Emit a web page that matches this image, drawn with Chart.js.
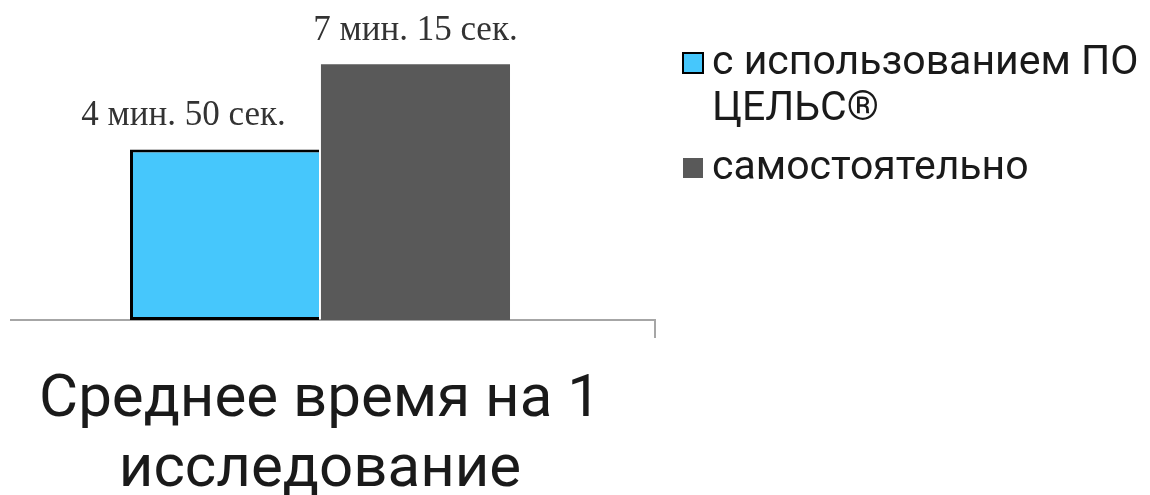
<!DOCTYPE html>
<html>
<head>
<meta charset="utf-8">
<script src="https://cdn.jsdelivr.net/npm/chart.js@4.4.1/dist/chart.umd.min.js"></script>
<style>
  html, body { margin: 0; padding: 0; background: #ffffff; }
  #wrap { width: 1150px; height: 495px; position: relative; }
</style>
</head>
<body>
<div id="wrap"><canvas id="c" width="1150" height="495"></canvas></div>
<script>
// ---- data ----
const categories = [['Среднее время на 1', 'исследование']];
const seriesNames = ['с использованием ПО ЦЕЛЬС®', 'самостоятельно'];
const legendLines = [['с использованием ПО', 'ЦЕЛЬС®'], ['самостоятельно']];
const withSoftwareSec = [290];   // 4 мин. 50 сек.
const manualSec = [435];         // 7 мин. 15 сек.
const valueLabels = [['4 мин. 50 сек.'], ['7 мин. 15 сек.']];

const BLUE = '#46C7FC';
const GRAY = '#595959';

const axisPlugin = {
  id: 'axisLine',
  beforeDatasetsDraw(chart) {
    const ctx = chart.ctx;
    const a = chart.chartArea;
    ctx.save();
    ctx.strokeStyle = '#a6a6a6';
    ctx.lineWidth = 2;
    ctx.beginPath();
    ctx.moveTo(10, a.bottom);
    ctx.lineTo(655, a.bottom);
    ctx.lineTo(655, a.bottom + 18);
    ctx.stroke();
    ctx.restore();
  }
};

const labelPlugin = {
  id: 'valueLabels',
  afterDatasetsDraw(chart, args, opts) {
    const ctx = chart.ctx;
    ctx.save();
    ctx.font = '35px "Liberation Serif", "Times New Roman", serif';
    ctx.fillStyle = '#333333';
    ctx.textAlign = 'center';
    ctx.textBaseline = 'alphabetic';
    chart.data.datasets.forEach((ds, i) => {
      const meta = chart.getDatasetMeta(i);
      meta.data.forEach((bar, j) => {
        const off = opts.offsets[i] || 0;
        ctx.fillText(valueLabels[i][j], bar.x + off, bar.y - 24);
      });
    });
    ctx.restore();
  }
};

const legendPlugin = {
  id: 'customLegend',
  afterDraw(chart) {
    const ctx = chart.ctx;
    ctx.save();
    ctx.font = '41px Roboto, "Noto Sans", sans-serif';
    ctx.textBaseline = 'alphabetic';
    const x0 = 683, tx = 712;
    const baselines = [[74, 120], [179]];
    chart.data.datasets.forEach((ds, i) => {
      const lines = legendLines[i];
      const b0 = baselines[i][0];
      ctx.fillStyle = ds.backgroundColor;
      ctx.fillRect(x0, b0 - 21, 20, 20);
      if (i === 0) {
        ctx.strokeStyle = '#000';
        ctx.lineWidth = 2;
        ctx.strokeRect(x0, b0 - 21, 20, 20);
      }
      ctx.fillStyle = '#1a1a1a';
      lines.forEach((t, k) => ctx.fillText(t, tx, baselines[i][k]));
    });
    ctx.restore();
  }
};

new Chart(document.getElementById('c'), {
  type: 'bar',
  data: {
    labels: categories,
    datasets: [
      {
        label: seriesNames[0],
        data: withSoftwareSec,
        backgroundColor: BLUE,
        borderColor: '#000000',
        borderWidth: { top: 3, left: 3, bottom: 3, right: 0 },
        borderSkipped: false,
        categoryPercentage: 0.616,
        barPercentage: 0.99
      },
      {
        label: seriesNames[1],
        data: manualSec,
        backgroundColor: GRAY,
        borderWidth: 0,
        categoryPercentage: 0.616,
        barPercentage: 0.99
      }
    ]
  },
  options: {
    responsive: false,
    animation: false,
    devicePixelRatio: 1,
    layout: { padding: { left: 10, right: 520, top: 26, bottom: 0 } },
    plugins: {
      legend: { display: false },
      tooltip: { enabled: false },
      valueLabels: { offsets: [-41, 0] }
    },
    scales: {
      y: {
        display: false,
        min: 0,
        max: 500
      },
      x: {
        grid: { display: false, drawTicks: false },
        border: { display: false },
        ticks: {
          font: { family: 'Roboto', size: 60, lineHeight: 1.17 },
          color: '#1a1a1a',
          padding: 46,
          maxRotation: 0,
          autoSkip: false
        },
        afterFit(scale) {
          scale.height = 175;
          scale.paddingLeft = 0;
          scale.paddingRight = 0;
        }
      }
    }
  },
  plugins: [axisPlugin, labelPlugin, legendPlugin]
});
</script>
</body>
</html>
